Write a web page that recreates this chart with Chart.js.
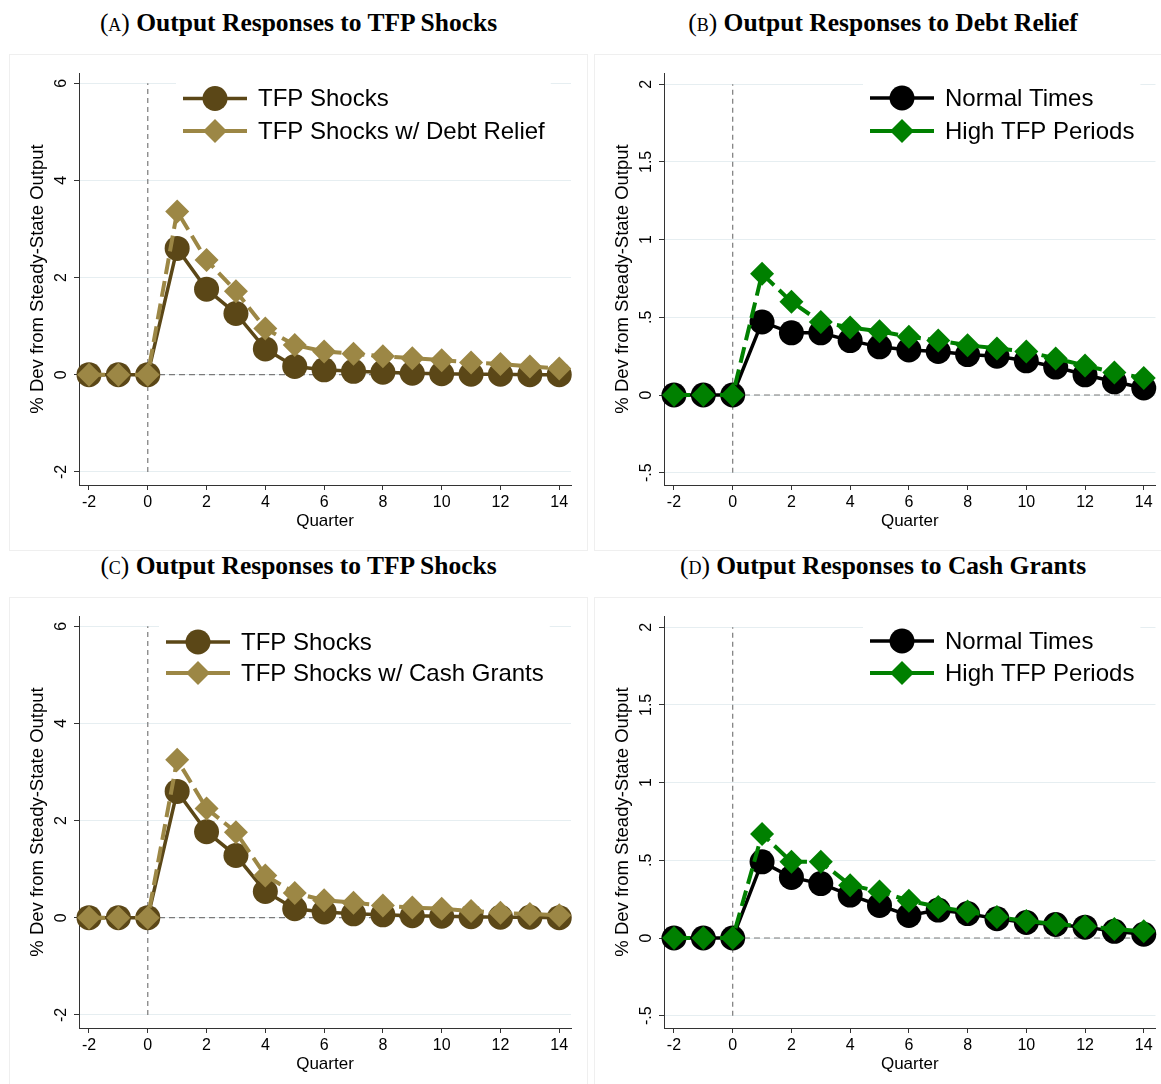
<!DOCTYPE html>
<html lang="en">
<head>
<meta charset="UTF-8">
<title>Output Responses</title>
<script src="https://cdn.jsdelivr.net/npm/chart.js"></script>
<style>
  body { margin: 0; width: 1161px; height: 1084px; overflow: hidden; background: #fff; position: relative; }
  .title { position: absolute; text-align: center; font-family: "Liberation Serif", "Times New Roman", serif;
           font-size: 25.5px; line-height: 30px; color: #000; white-space: nowrap; }
  .title .tag { font-variant: small-caps; }
  canvas { position: absolute; outline: 1px solid #efefef; }
</style>
</head>
<body>

<div class="title" style="left:10px; top:8px; width:577px;"><span class="tag">(a)</span> <b>Output Responses to TFP Shocks</b></div>
<div class="title" style="left:595px; top:8px; width:576px;"><span class="tag">(b)</span> <b>Output Responses to Debt Relief</b></div>
<div class="title" style="left:10px; top:551px; width:577px;"><span class="tag">(c)</span> <b>Output Responses to TFP Shocks</b></div>
<div class="title" style="left:595px; top:551px; width:576px;"><span class="tag">(d)</span> <b>Output Responses to Cash Grants</b></div>

<canvas id="chartA" width="577" height="495" style="left:10px; top:55px;"></canvas>
<canvas id="chartB" width="573" height="495" style="left:595px; top:55px;"></canvas>
<canvas id="chartC" width="577" height="495" style="left:10px; top:598px;"></canvas>
<canvas id="chartD" width="573" height="495" style="left:595px; top:598px;"></canvas>

<script>
// --- data ---
const quarters = [-2, -1, 0, 1, 2, 3, 4, 5, 6, 7, 8, 9, 10, 11, 12, 13, 14];
const xTicks = [-2, 0, 2, 4, 6, 8, 10, 12, 14];
const yTicksAC = [-2, 0, 2, 4, 6];
const yTicksBD = [-0.5, 0, 0.5, 1, 1.5, 2];

const tfpShocksA   = [0, 0, 0, 2.60, 1.76, 1.26, 0.53, 0.17, 0.10, 0.07, 0.05, 0.03, 0.02, 0.01, 0.01, 0.00, 0.00];
const debtReliefA  = [0, 0, 0, 3.36, 2.36, 1.72, 0.95, 0.61, 0.48, 0.43, 0.38, 0.34, 0.30, 0.25, 0.22, 0.17, 0.13];
const normalTimesB = [0, 0, 0, 0.47, 0.40, 0.40, 0.35, 0.31, 0.29, 0.28, 0.26, 0.25, 0.22, 0.18, 0.13, 0.085, 0.045];
const highTfpB     = [0, 0, 0, 0.78, 0.60, 0.47, 0.435, 0.41, 0.375, 0.35, 0.32, 0.30, 0.28, 0.235, 0.19, 0.145, 0.11];
const tfpShocksC   = [0, 0, 0, 2.60, 1.77, 1.28, 0.54, 0.185, 0.12, 0.08, 0.06, 0.04, 0.03, 0.02, 0.01, 0.01, 0.00];
const cashGrantsC  = [0, 0, 0, 3.25, 2.25, 1.76, 0.87, 0.51, 0.36, 0.31, 0.25, 0.21, 0.185, 0.14, 0.10, 0.075, 0.05];
const normalTimesD = [0, 0, 0, 0.49, 0.39, 0.35, 0.276, 0.21, 0.145, 0.18, 0.157, 0.124, 0.10, 0.087, 0.07, 0.043, 0.024];
const highTfpD     = [0, 0, 0, 0.67, 0.49, 0.49, 0.34, 0.30, 0.24, 0.20, 0.17, 0.135, 0.11, 0.09, 0.074, 0.058, 0.043];

const darkBrown = '#5b4717';
const tan = '#9c8745';
const green = '#008000';
const sans = '"Liberation Sans", Arial, sans-serif';

Chart.defaults.font.family = sans;
Chart.defaults.color = '#000';

// legend with a line + marker sample, drawn inside the plot
const lineLegend = {
  id: 'lineLegend',
  afterDatasetsDraw(chart, args, opts) {
    const ctx = chart.ctx;
    const items = chart.data.datasets.filter(d => d.inLegend);
    ctx.save();
    ctx.font = '24px ' + sans;
    const maxW = Math.max(...items.map(d => ctx.measureText(d.label).width));
    ctx.fillStyle = '#fff';
    ctx.fillRect(opts.x - 7, opts.rows[0] - 22, 78 + maxW + 10, opts.rows[1] - opts.rows[0] + 42);
    items.forEach((d, i) => {
      const y = opts.rows[i], x = opts.x;
      ctx.strokeStyle = d.borderColor;
      ctx.lineWidth = d.borderWidth;
      ctx.beginPath(); ctx.moveTo(x, y); ctx.lineTo(x + 64, y); ctx.stroke();
      ctx.fillStyle = d.backgroundColor;
      ctx.beginPath();
      const r = d.pointRadius, cx = x + 32;
      if (d.pointStyle === 'circle') {
        ctx.arc(cx, y, r, 0, Math.PI * 2);
      } else {
        ctx.moveTo(cx, y - r); ctx.lineTo(cx + r, y); ctx.lineTo(cx, y + r); ctx.lineTo(cx - r, y); ctx.closePath();
      }
      ctx.fill();
      ctx.fillStyle = '#000';
      ctx.textBaseline = 'middle';
      ctx.fillText(d.label, x + 75, y + 1);
    });
    ctx.restore();
  }
};

function fmt(v) {
  return String(v).replace(/^0\./, '.').replace(/^-0\./, '-.');
}

function makeChart(id, cfg) {
  const [solid, dashed] = cfg.series;
  const datasets = [
    {
      label: solid.label, inLegend: true,
      data: quarters.map((q, i) => ({ x: q, y: solid.values[i] })),
      borderColor: solid.color, backgroundColor: solid.color, borderWidth: 3.5,
      pointStyle: 'circle', pointRadius: 12.5, pointBorderWidth: 0,
      clip: false, order: 2
    },
    {
      label: dashed.label, inLegend: true,
      data: quarters.map((q, i) => ({ x: q, y: dashed.values[i] })),
      borderColor: dashed.color, backgroundColor: dashed.color, borderWidth: 4, borderDash: [16, 7],
      pointStyle: 'rectRot', pointRadius: 12, pointBorderWidth: 0,
      clip: false, order: 1
    },
    {
      label: 'x0',
      data: [{ x: 0, y: cfg.yTicks[0] }, { x: 0, y: cfg.yTicks[cfg.yTicks.length - 1] }],
      borderColor: '#7a7a7a', borderWidth: 1.2, borderDash: [5, 4], pointRadius: 0, order: 10
    },
    {
      label: 'y0',
      data: [{ x: xTicks[0], y: 0 }, { x: xTicks[xTicks.length - 1], y: 0 }],
      borderColor: '#7a7a7a', borderWidth: 1.2, borderDash: [6, 4], pointRadius: 0, order: 10
    }
  ];

  return new Chart(document.getElementById(id), {
    type: 'line',
    data: { datasets },
    plugins: [lineLegend],
    options: {
      responsive: false,
      animation: false,
      events: [],
      layout: { padding: { left: 0, top: 18, right: cfg.padRight, bottom: 0 } },
      plugins: {
        legend: { display: false },
        tooltip: { enabled: false },
        lineLegend: { x: cfg.legendX, rows: cfg.legendRows }
      },
      scales: {
        x: {
          type: 'linear', min: -2.34, max: 14.4,
          afterBuildTicks: s => { s.ticks = xTicks.map(v => ({ value: v })); },
          afterFit: s => { s.height = 65; },
          grid: { drawOnChartArea: false, tickLength: 5, tickColor: '#333' },
          border: { color: '#333', width: 1 },
          ticks: { font: { size: 16 }, padding: 3, maxRotation: 0, autoSkip: false, color: '#000' },
          title: { display: true, text: 'Quarter', font: { size: 17 }, color: '#000', padding: { top: 0, bottom: 18 } }
        },
        y: {
          type: 'linear', min: cfg.yMin, max: cfg.yMax,
          afterBuildTicks: s => { s.ticks = cfg.yTicks.map(v => ({ value: v })); },
          afterFit: s => { s.width = 69; },
          grid: { color: '#e6eef1', lineWidth: 1, tickLength: 5, tickColor: '#333' },
          border: { color: '#333', width: 1 },
          ticks: {
            font: { size: 16 }, padding: cfg.yTickPad, minRotation: 90, maxRotation: 90,
            crossAlign: 'center', autoSkip: false, color: '#000', callback: v => fmt(v)
          },
          title: { display: true, text: '% Dev from Steady-State Output', font: { size: 18.5 }, color: '#000', padding: { top: 17, bottom: 0 } }
        }
      }
    }
  });
}

makeChart('chartA', {
  series: [
    { label: 'TFP Shocks', values: tfpShocksA, color: darkBrown },
    { label: 'TFP Shocks w/ Debt Relief', values: debtReliefA, color: tan }
  ],
  yTicks: yTicksAC, yMin: -2.27, yMax: 6.21, yTickPad: 5,
  padRight: 16, legendX: 173, legendRows: [43.5, 76]
});

makeChart('chartB', {
  series: [
    { label: 'Normal Times', values: normalTimesB, color: '#000' },
    { label: 'High TFP Periods', values: highTfpB, color: green }
  ],
  yTicks: yTicksBD, yMin: -0.579, yMax: 2.072, yTickPad: 1.5,
  padRight: 12, legendX: 275, legendRows: [43, 76]
});

makeChart('chartC', {
  series: [
    { label: 'TFP Shocks', values: tfpShocksC, color: darkBrown },
    { label: 'TFP Shocks w/ Cash Grants', values: cashGrantsC, color: tan }
  ],
  yTicks: yTicksAC, yMin: -2.27, yMax: 6.21, yTickPad: 5,
  padRight: 16, legendX: 156, legendRows: [44, 75]
});

makeChart('chartD', {
  series: [
    { label: 'Normal Times', values: normalTimesD, color: '#000' },
    { label: 'High TFP Periods', values: highTfpD, color: green }
  ],
  yTicks: yTicksBD, yMin: -0.579, yMax: 2.072, yTickPad: 1.5,
  padRight: 12, legendX: 275, legendRows: [43, 75]
});
</script>
</body>
</html>
